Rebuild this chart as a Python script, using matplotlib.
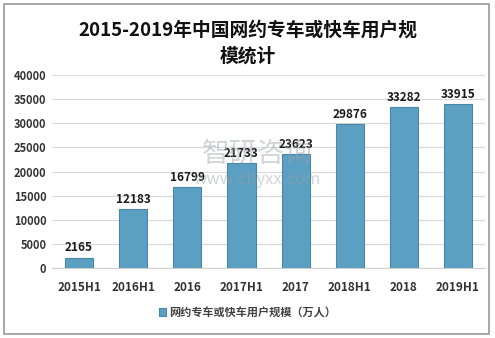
import matplotlib.pyplot as plt
from matplotlib.patches import Rectangle

plt.rcParams['font.family'] = ['Noto Sans CJK SC', 'DejaVu Sans']

categories = ['2015H1', '2016H1', '2016', '2017H1', '2017', '2018H1', '2018', '2019H1']
users = [2165, 12183, 16799, 21733, 23623, 29876, 33282, 33915]
yticks = [0, 5000, 10000, 15000, 20000, 25000, 30000, 35000, 40000]

fig = plt.figure(figsize=(4.95, 3.38), dpi=100)
ax = fig.add_axes([0.105, 0.207, 0.875, 0.571])

x = range(len(categories))
bars = ax.bar(x, users, width=0.52, color='#5b9fc2', edgecolor='#4a86a6', linewidth=0.8,
              label='网约专车或快车用户规模（万人）', zorder=3)
for xi, v in zip(x, users):
    ax.text(xi, v + 700, str(v), ha='center', va='bottom', fontsize=8.5,
            fontweight='bold', color='#1a1a1a', zorder=4)

ax.set_ylim(0, 40000)
ax.set_xlim(-0.5, len(categories) - 0.5)
ax.set_yticks(yticks)
ax.set_yticklabels([str(t) for t in yticks], fontsize=8, fontweight='bold', color='#333333')
ax.set_xticks(list(x))
ax.set_xticklabels(categories, fontsize=8.5, fontweight='bold', color='#333333')
ax.tick_params(length=0, pad=4)
ax.tick_params(axis='x', pad=9)
ax.grid(axis='y', color='#d9d9d9', linewidth=0.8, zorder=0)
for s in ['top', 'right', 'left']:
    ax.spines[s].set_visible(False)
ax.spines['bottom'].set_color('#d0d0d0')

fig.text(0.5, 0.873, '2015-2019年中国网约专车或快车用户规\n模统计', ha='center', va='center',
         fontsize=13.5, fontweight='bold', color='#111111', linespacing=1.45)

leg = fig.legend(handles=[bars], loc='center', bbox_to_anchor=(0.5, 0.075), frameon=False,
                 prop={'size': 8, 'weight': 'bold'}, handlelength=0.7, handleheight=0.7,
                 handletextpad=0.3)
for t in leg.get_texts():
    t.set_color('#404040')

# watermark
fig.text(0.52, 0.545, '智研咨询', ha='center', va='center', fontsize=20, color='#9aa0a8', alpha=0.45)
fig.text(0.52, 0.47, 'www.chyxx.com', ha='center', va='center', fontsize=12, color='#9aa0a8', alpha=0.45)

fig.add_artist(Rectangle((0.008, 0.012), 0.98, 0.975, transform=fig.transFigure,
                         fill=False, edgecolor='#999999', linewidth=1.2))

fig.savefig('out.png', dpi=100)
